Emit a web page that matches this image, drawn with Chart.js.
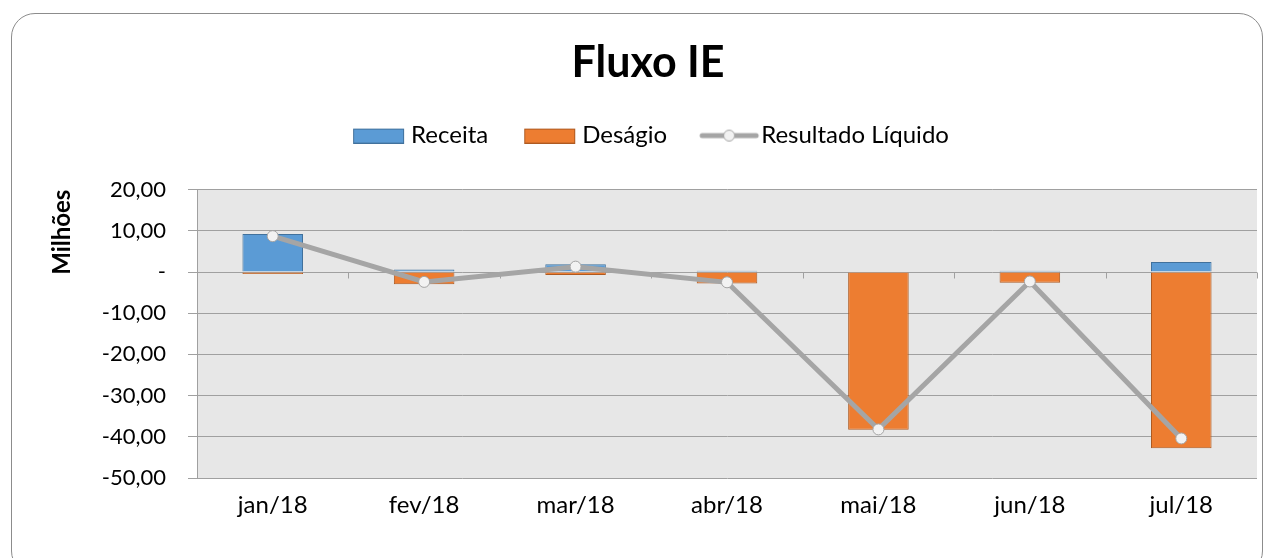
<!DOCTYPE html>
<html>
<head>
<meta charset="utf-8">
<script src="https://cdn.jsdelivr.net/npm/chart.js@4/dist/chart.umd.min.js"></script>
<style>
  html, body { margin: 0; padding: 0; background: #fff; }
  #moldura { position: absolute; left: 11px; top: 13px; width: 1250px; height: 560px;
             border: 1px solid #8c8c8c; border-radius: 24px; }
  #caixa { position: absolute; left: 0; top: 0; width: 1274px; height: 558px; }
</style>
</head>
<body>
<div id="moldura"></div>
<div id="caixa"><canvas id="grafico-fluxo"></canvas></div>
<script>
/* Dados do gráfico (em milhões) */
var meses = ['jan/18', 'fev/18', 'mar/18', 'abr/18', 'mai/18', 'jun/18', 'jul/18'];
var receita = [9.2, 0.6, 1.9, 0.3, 0.1, 0.3, 2.4];
var desagio = [-0.5, -3.0, -0.7, -2.8, -38.3, -2.6, -42.8];
var resultadoLiquido = [8.7, -2.4, 1.3, -2.5, -38.2, -2.3, -40.4];

var corReceita = '#5b9bd5';
var corDesagio = '#ed7d31';
var corLinha = '#a5a5a5';
var fonte = 'Lato, "Open Sans", sans-serif';

/* Ícones da legenda: largura do marcador (P) com recuo à esquerda (L) */
var larguraMarcador = 72;
function novoIcone(L, w, desenha) {
    var P = larguraMarcador;
    var C = 2 * Math.max(P / 2 - L, L + w - P / 2) + 4;
    var c = document.createElement('canvas');
    c.width = C; c.height = 16;
    var g = c.getContext('2d');
    g.translate(L - P / 2 + C / 2, 0);
    desenha(g, w);
    return c;
}
function iconeCaixa(L, cor, borda) {
    return novoIcone(L, 51, function (g, w) {
        g.fillStyle = cor; g.fillRect(0, 1, w, 15);
        g.strokeStyle = borda; g.lineWidth = 1; g.strokeRect(0.5, 1.5, w - 1, 14);
    });
}
function iconeLinha(L) {
    return novoIcone(L, 60, function (g, w) {
        g.strokeStyle = corLinha; g.lineWidth = 5; g.lineCap = 'round';
        g.beginPath(); g.moveTo(3, 8); g.lineTo(w - 3, 8); g.stroke();
        g.fillStyle = '#f2f2f2'; g.strokeStyle = '#a5a5a5'; g.lineWidth = 1;
        g.beginPath(); g.arc(w / 2, 8, 5.5, 0, Math.PI * 2); g.fill(); g.stroke();
    });
}
var icones = [iconeCaixa(26, corReceita, '#41719c'), iconeCaixa(26, corDesagio, '#ae5a21'), iconeLinha(22)];

/* Fundo da área do gráfico, marcas do eixo no zero e posição do título e da legenda */
var fundoArea = {
    id: 'fundoArea',
    afterLayout: function (chart) {
        var lg = chart.legend;
        var d = 638 - (lg.left + lg.right) / 2;
        lg.left += d; lg.right += d;
        var tt = chart.titleBlock;
        var dt = 648 - (tt.left + tt.right) / 2;
        tt.left += dt; tt.right += dt;
    },
    beforeDraw: function (chart) {
        var a = chart.chartArea, ctx = chart.ctx;
        ctx.save();
        ctx.fillStyle = '#e7e7e7';
        ctx.fillRect(a.left, a.top, a.right - a.left, a.bottom - a.top);
        ctx.restore();
    },
    beforeDatasetsDraw: function (chart) {
        var x = chart.scales.x, y = chart.scales.y, ctx = chart.ctx;
        var y0 = Math.round(y.getPixelForValue(0)) + 0.5;
        var passo = x.getPixelForValue(1) - x.getPixelForValue(0);
        ctx.save();
        ctx.strokeStyle = '#a0a0a0';
        ctx.lineWidth = 1;
        for (var i = 1; i <= meses.length; i++) {
            var px = Math.round(x.getPixelForValue(i) - passo / 2) + 0.5;
            ctx.beginPath(); ctx.moveTo(px, y0); ctx.lineTo(px, y0 + 6); ctx.stroke();
        }
        ctx.restore();
    }
};

var marco = document.getElementById('grafico-fluxo').getContext('2d');

var grafico = new Chart(marco, {
    data: {
        labels: meses,
        datasets: [{
            type: 'bar',
            label: 'Receita',
            data: receita,
            backgroundColor: corReceita,
            borderColor: '#41719c',
            borderWidth: 1,
            order: 1
        }, {
            type: 'bar',
            label: 'Deságio',
            data: desagio,
            backgroundColor: corDesagio,
            borderColor: '#ae5a21',
            borderWidth: 1,
            order: 1
        }, {
            type: 'line',
            label: 'Resultado Líquido',
            data: resultadoLiquido,
            borderColor: corLinha,
            borderWidth: 5,
            pointRadius: 5.5,
            pointBackgroundColor: '#f2f2f2',
            pointBorderColor: '#a5a5a5',
            pointBorderWidth: 1,
            tension: 0,
            order: 0
        }]
    },
    options: {
        responsive: true,
        maintainAspectRatio: false,
        animation: false,
        datasets: { bar: { barPercentage: 0.4, categoryPercentage: 1 } },
        layout: { padding: { left: 48, right: 17, top: 0, bottom: 0 } },
        plugins: {
            tooltip: { enabled: false },
            title: {
                display: true,
                text: 'Fluxo IE',
                color: '#000',
                font: { family: fonte, size: 43, weight: 'bold' },
                padding: { top: 37, bottom: 25 }
            },
            subtitle: {
                display: true,
                text: '',
                weight: 500,
                font: { size: 10, lineHeight: 1 },
                padding: { top: 22, bottom: 0 }
            },
            legend: {
                display: true,
                labels: {
                    color: '#000',
                    font: { family: fonte, size: 24 },
                    usePointStyle: true,
                    pointStyleWidth: larguraMarcador,
                    boxHeight: 16,
                    padding: 10,
                    sort: function (a, b) { return a.datasetIndex - b.datasetIndex; },
                    generateLabels: function (chart) {
                        return chart.data.datasets.map(function (ds, i) {
                            return { text: ds.label, pointStyle: icones[i], datasetIndex: i,
                                     fillStyle: 'transparent', strokeStyle: 'transparent', lineWidth: 0 };
                        });
                    }
                }
            }
        },
        scales: {
            x: {
                stacked: true,
                grid: { display: false, drawTicks: false },
                border: { display: false },
                ticks: { color: '#000', padding: 13, font: { family: fonte, size: 24 } },
                afterFit: function (s) { s.height = 80; }
            },
            y: {
                stacked: true,
                min: -50,
                max: 20,
                grid: { color: '#a0a0a0', lineWidth: 1, tickLength: 9 },
                border: { display: true, color: '#a0a0a0' },
                ticks: {
                    stepSize: 10,
                    color: '#000',
                    padding: 22,
                    font: { family: fonte, size: 22 },
                    callback: function (v) {
                        if (v === 0) return '-';
                        return v.toFixed(2).replace('.', ',');
                    }
                },
                title: {
                    display: true,
                    text: 'Milhões',
                    align: 'end',
                    color: '#000',
                    font: { family: fonte, size: 24, weight: 'bold' },
                    padding: 0
                },
                afterFit: function (s) { s.width = 149; }
            }
        }
    },
    plugins: [fundoArea]
});
</script>
</body>
</html>
